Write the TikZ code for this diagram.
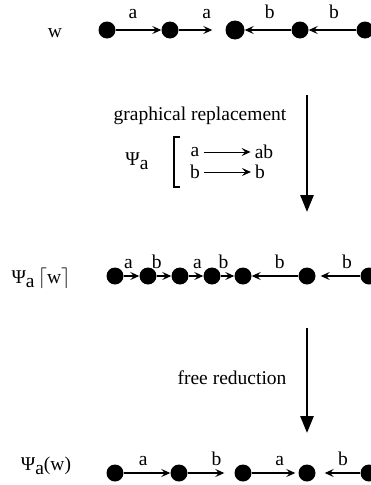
\documentclass[tikz,border=0pt]{standalone}
\usepackage{fontspec}
\setmainfont{Liberation Serif}
\usetikzlibrary{arrows.meta}
\tikzset{
  vtx/.style={circle,fill=black,inner sep=0pt,minimum size=17pt},
  bigvtx/.style={vtx,minimum size=19pt},
  edg/.style={-{Stealth[length=9pt,width=8pt,inset=3.5pt]},line width=1.2pt},
  steparr/.style={-{Triangle[length=17pt,width=13pt]},line width=2.8pt},
  lbl/.style={font=\fontsize{19.5}{22}\selectfont,inner sep=1pt},
  toplbl/.style={lbl,above=10pt},
  midlbl/.style={lbl,above=6pt},
  rulenode/.style={lbl,inner sep=4pt}
}
\newcommand{\Psa}{Ψ\raisebox{-4pt}{a}}

\begin{document}
\begin{tikzpicture}[x=1pt,y=-1pt]
  \useasboundingbox (0,0) rectangle (371,485);

  % word w
  \node[lbl] (wlbl) at (55,33) {w};
  \node[vtx] (t1) at (107,30) {};
  \node[vtx] (t2) at (170,30) {};
  \node[bigvtx] (t3) at (235,30) {};
  \node[vtx] (t4) at (300,30) {};
  \node[vtx] (t5) at (365,30) {};
  \draw[edg] (t1) -- node[toplbl,pos=0.38]{a} (t2);
  \draw[edg,shorten >=13pt] (t2) -- node[toplbl,pos=0.6]{a} (t3);
  \draw[edg] (t4) -- node[toplbl,pos=0.46]{b} (t3);
  \draw[edg] (t5) -- node[toplbl,pos=0.47]{b} (t4);

  % graphical replacement
  \coordinate (s1) at (307,95);
  \coordinate (e1) at (307,212);
  \draw[steparr] (s1) -- (e1);
  \node[lbl] (grtxt) at (200,116) {graphical replacement};
  \node[lbl] (psi) at (137,161) {\Psa};
  \draw[line width=1.1pt] (180,137) -- (174,137) -- (174,187) -- (180,187);
  \node[rulenode] (ra) at (195,152) {a};
  \node[rulenode] (rab) at (264,152) {ab};
  \node[rulenode] (rb) at (195,172) {b};
  \node[rulenode] (rbb) at (260,172) {b};
  \draw[edg,line width=1pt] (ra) -- (rab);
  \draw[edg,line width=1pt] (rb) -- (rbb);

  % Psi_a [w]
  \node[lbl] (mlbl) at (41,278) {\Psa\,$\lceil$w$\rceil$};
  \node[vtx] (m1) at (115,276) {};
  \node[vtx] (m2) at (148,276) {};
  \node[vtx] (m3) at (180,276) {};
  \node[vtx] (m4) at (212,276) {};
  \node[vtx] (m5) at (243,276) {};
  \node[vtx] (m6) at (307,276) {};
  \node[vtx] (m7) at (369,276) {};
  \draw[edg] (m1) -- node[midlbl,pos=0.3]{a} (m2);
  \draw[edg] (m2) -- node[midlbl,pos=0]{b} (m3);
  \draw[edg] (m3) -- node[midlbl,pos=0.6]{a} (m4);
  \draw[edg] (m4) -- node[midlbl,pos=0.2]{b} (m5);
  \draw[edg] (m6) -- node[midlbl,pos=0.4]{b} (m5);
  \draw[edg,shorten >=5pt] (m7) -- node[midlbl,pos=0.3]{b} (m6);

  % free reduction
  \coordinate (s2) at (307,328);
  \coordinate (e2) at (307,433);
  \draw[steparr] (s2) -- (e2);
  \node[lbl] (frtxt) at (232,378) {free reduction};

  % Psi_a(w)
  \node[lbl] (blbl) at (46,466) {\Psa(w)};
  \node[vtx] (b1) at (115,473) {};
  \node[vtx] (b2) at (179,473) {};
  \node[vtx] (b3) at (243,473) {};
  \node[vtx] (b4) at (307,473) {};
  \node[vtx] (b5) at (369,473) {};
  \draw[edg] (b1) -- node[midlbl,pos=0.42]{a} (b2);
  \draw[edg,shorten >=10pt] (b2) -- node[midlbl,pos=0.62]{b} (b3);
  \draw[edg,shorten >=3pt] (b3) -- node[midlbl,pos=0.6]{a} (b4);
  \draw[edg,shorten >=9pt] (b5) -- node[midlbl,pos=0.39]{b} (b4);
\end{tikzpicture}
\end{document}
